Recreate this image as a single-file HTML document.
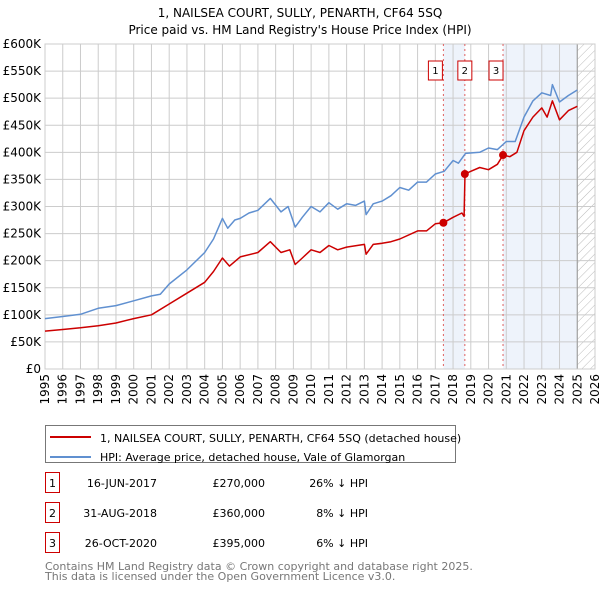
<!DOCTYPE html>
<html><head><meta charset="utf-8"><style>
body{margin:0;width:600px;height:590px;background:#fff;font-family:"Liberation Sans","DejaVu Sans",sans-serif;overflow:hidden}
svg text{font-family:"DejaVu Sans","Liberation Sans",sans-serif}
</style></head><body>
<svg id="c" width="600" height="590">
<text x="300" y="17" text-anchor="middle" font-size="12">1, NAILSEA COURT, SULLY, PENARTH, CF64 5SQ</text>
<text x="300" y="34" text-anchor="middle" font-size="12">Price paid vs. HM Land Registry's House Price Index (HPI)</text>
</svg>
<script>
const yTicks=[0,50000,100000,150000,200000,250000,300000,350000,400000,450000,500000,550000,600000];
const yTickLabels=["£0","£50K","£100K","£150K","£200K","£250K","£300K","£350K","£400K","£450K","£500K","£550K","£600K"];
const xYears=[1995,1996,1997,1998,1999,2000,2001,2002,2003,2004,2005,2006,2007,2008,2009,2010,2011,2012,2013,2014,2015,2016,2017,2018,2019,2020,2021,2022,2023,2024,2025,2026];
const hpiT=[1995,1996,1997,1998,1999,2000,2001,2001.5,2002,2003,2004,2004.5,2005,2005.3,2005.7,2006,2006.5,2007,2007.7,2008.3,2008.7,2009.1,2009.5,2010,2010.5,2011,2011.5,2012,2012.5,2013,2013.1,2013.5,2014,2014.5,2015,2015.5,2016,2016.5,2017,2017.5,2018,2018.3,2018.7,2019.5,2020,2020.5,2021,2021.5,2022,2022.5,2023,2023.5,2023.6,2024,2024.5,2025];
const hpiV=[93000,97000,101000,112000,117000,126000,135000,138000,157000,183000,215000,240000,278000,260000,275000,278000,288000,293000,315000,290000,300000,262000,280000,300000,290000,307000,295000,305000,302000,310000,285000,305000,310000,320000,335000,330000,345000,345000,360000,365000,385000,380000,398000,400000,408000,405000,420000,420000,465000,495000,510000,505000,525000,493000,505000,515000];
const ppT=[1995,1996,1997,1998,1999,2000,2001,2002,2003,2004,2004.5,2005,2005.4,2006,2007,2007.7,2008.3,2008.8,2009.1,2009.5,2010,2010.5,2011,2011.5,2012,2013,2013.1,2013.5,2014,2014.5,2015,2016,2016.5,2017,2017.45,2018,2018.5,2018.62,2018.67,2019,2019.5,2020,2020.5,2020.82,2021.2,2021.6,2022,2022.5,2023,2023.3,2023.6,2024,2024.5,2025];
const ppV=[70000,73000,76000,80000,85000,93000,100000,120000,140000,160000,180000,205000,190000,207000,215000,235000,215000,220000,193000,205000,220000,215000,228000,220000,225000,230000,212000,230000,232000,235000,240000,255000,255000,268000,270000,280000,288000,282000,360000,365000,372000,368000,378000,395000,392000,400000,440000,465000,482000,465000,495000,460000,477000,485000];
const saleT=[2017.455,2018.664,2020.816];
const saleV=[270000,360000,395000];
const saleLabels=["1","2","3"];
const saleDates=["16-JUN-2017","31-AUG-2018","26-OCT-2020"];
const salePrices=["£270,000","£360,000","£395,000"];
const salePct=["26% ↓ HPI","8% ↓ HPI","6% ↓ HPI"];

const L=45,R=595,T=44,B=369;
const X=t=>L+(t-1995)/31*(R-L);
const Y=v=>B-v/600000*(B-T);
const svg=document.getElementById('c');
const NS="http://www.w3.org/2000/svg";
function mk(tag,at,parent){const e=document.createElementNS(NS,tag);for(const k in at)e.setAttribute(k,at[k]);(parent||svg).appendChild(e);return e;}
let s1=mk('rect',{x:X(saleT[0]),y:T,width:X(saleT[1])-X(saleT[0]),height:B-T,fill:'#eef3fb'});


let s2=mk('rect',{x:X(saleT[2]),y:T,width:X(2025)-X(saleT[2]),height:B-T,fill:'#eef3fb'});


const defs=mk('defs',{});
const pat=mk('pattern',{id:'h',width:6,height:6,patternUnits:'userSpaceOnUse',patternTransform:'rotate(45)'},defs);
mk('line',{x1:0,y1:0,x2:0,y2:6,stroke:'#bbb','stroke-width':1},pat);
let hz=mk('rect',{x:X(2025),y:T,width:R-X(2025),height:B-T,fill:'url(#h)'});


yTicks.forEach((v,i)=>{
 let g=mk('line',{x1:L,x2:R,y1:Y(v),y2:Y(v),stroke:'#ccc','stroke-width':1});
 
 
 let t=mk('text',{x:L-4,y:Y(v)+4,'text-anchor':'end','font-size':12});
 t.textContent=yTickLabels[i];
 
 
});
xYears.forEach(yr=>{
 let g=mk('line',{x1:X(yr),x2:X(yr),y1:T,y2:B,stroke:'#ccc','stroke-width':1});
 
 
 let t=mk('text',{x:0,y:0,'text-anchor':'end','font-size':12,transform:`translate(${X(yr)+4},${B+5}) rotate(-90)`});
 t.textContent=yr;
 
 
});
mk('line',{x1:X(2025),x2:X(2025),y1:T,y2:B,stroke:'#999','stroke-width':1});
mk('rect',{x:L,y:T,width:R-L,height:B-T,fill:'none',stroke:'#ccc'});
saleT.forEach((t,i)=>{
 let l=mk('line',{x1:X(t),x2:X(t),y1:T,y2:B,stroke:'#e06060','stroke-width':1,'stroke-dasharray':'2,3'});
 
 
 let bx=X(t)-(i===0?8:(i===1?0:7))-7;
 let r=mk('rect',{x:bx,y:61,width:14,height:19,fill:'#fff',stroke:'#cc0000'});
 
 
 let tx=mk('text',{x:bx+7,y:74,'text-anchor':'middle','font-size':10});
 tx.textContent=saleLabels[i];
 
 
});
function path(ts,vs,col,name){
 let d=ts.map((t,i)=>(i?'L':'M')+X(t).toFixed(1)+','+Y(vs[i]).toFixed(1)).join('');
 let p=mk('path',{d:d,fill:'none',stroke:col,'stroke-width':1.5,'stroke-linejoin':'round'});
 
 
}
path(hpiT,hpiV,'#6090d0','hpi-line');
path(ppT,ppV,'#cc0000','price-paid-line');
saleT.forEach((t,i)=>{
 let c=mk('circle',{cx:X(t),cy:Y(saleV[i]),r:4,fill:'#cc0000'});
 
 
});
let lg=mk('rect',{x:45.5,y:425.5,width:410,height:37,fill:'#fff',stroke:'#777'});


mk('line',{x1:50,x2:91,y1:437,y2:437,stroke:'#cc0000','stroke-width':2});
mk('line',{x1:50,x2:91,y1:457,y2:457,stroke:'#6090d0','stroke-width':2});
let l1=mk('text',{x:100,y:442,'font-size':11});l1.textContent='1, NAILSEA COURT, SULLY, PENARTH, CF64 5SQ (detached house)';


let l2=mk('text',{x:100,y:461,'font-size':11});l2.textContent='HPI: Average price, detached house, Vale of Glamorgan';


saleLabels.forEach((lab,i)=>{
 const cy=483+i*30;
 let b=mk('rect',{x:45.5,y:cy-10.5,width:14,height:20,fill:'#fff',stroke:'#cc0000'});
 
 
 const cells=[[52.5,'middle',lab],[157,'end',saleDates[i]],[265,'end',salePrices[i]],[368,'end',salePct[i]]];
 cells.forEach(c=>{let t=mk('text',{x:c[0],y:cy+4,'text-anchor':c[1],'font-size':11});t.textContent=c[2];
  
  });
});
let f1=mk('text',{x:45,y:570,'font-size':11,fill:'#777'});f1.textContent='Contains HM Land Registry data © Crown copyright and database right 2025.';


let f2=mk('text',{x:45,y:580,'font-size':11,fill:'#777'});f2.textContent='This data is licensed under the Open Government Licence v3.0.';


</script>
</body></html>
